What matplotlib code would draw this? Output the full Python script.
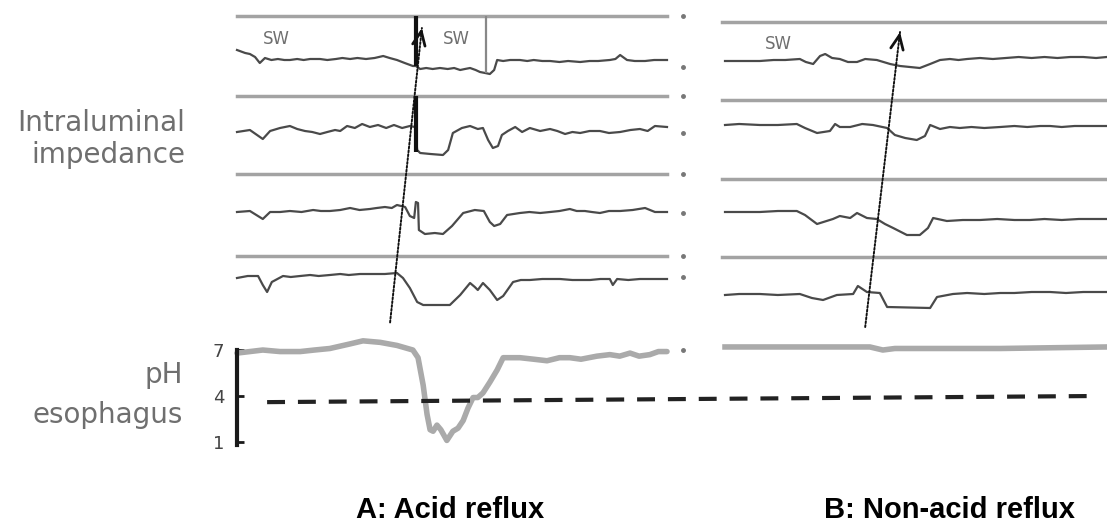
import matplotlib.pyplot as plt

W, H = 1107, 524

# --- A: acid reflux (time in s, impedance in arbitrary units) ---
a_t1 = [0, 1.9, 3, 4.2, 5.3, 6.5, 8, 9.5, 11, 12.3, 14, 15.5, 17, 19.3, 21, 23, 24.5, 26.3,
        28, 30, 32, 34, 35.5, 37.2, 39, 40.9, 41.6, 42.6, 44, 45.5, 47.2, 49, 50.5, 51.9,
        53, 54.2, 55.5, 56.5, 57.7, 58.8, 59.8, 60.5, 61.9, 63.5, 65.8, 67.5, 69, 71, 72.8,
        75, 77, 79.8, 82, 84, 86.7, 88, 89.1, 90.7, 92.5, 94.9, 97, 100]
a_z1 = [4.6, 4.3, 4.2, 3.9, 3.3, 3.8, 3.6, 3.7, 3.6, 3.6, 3.7, 3.6, 3.7, 3.7, 3.6, 3.7, 3.8, 3.7,
        3.8, 3.7, 3.8, 4.0, 3.8, 3.6, 3.3, 3.0, 3.0, 2.7, 2.8, 2.7, 2.8, 2.7, 2.8, 2.6,
        2.7, 2.8, 2.6, 2.4, 2.3, 2.2, 2.6, 3.6, 3.5, 3.6, 3.6, 3.5, 3.6, 3.5, 3.5,
        3.4, 3.5, 3.4, 3.5, 3.5, 3.6, 3.7, 4.1, 3.6, 3.5, 3.5, 3.6, 3.6]

a_t2 = [0, 3, 6, 7.7, 10, 12.3, 14, 15.8, 17.5, 19.3, 21, 22.8, 24, 25.6, 27.4, 29.1, 30.9,
        32.8, 34.7, 36.5, 38.4, 40.2, 41.4, 41.9, 42.6, 45, 47.9, 49.1, 50.2, 52.3, 54.2, 56,
        57.2, 58.4, 59.5, 60.7, 61.6, 63, 64.7, 66.3, 68.1, 70.5, 72.8, 74.5, 76.3, 78, 79.8,
        82, 84.4, 86.5, 89.1, 91.5, 93.7, 95.5, 97.2, 100]
a_z2 = [4.4, 4.6, 3.7, 4.5, 4.8, 5.0, 4.7, 4.5, 4.4, 4.2, 4.4, 4.6, 4.5, 5.0, 4.8, 5.2, 4.9,
        5.1, 4.8, 5.1, 4.8, 5.0, 4.9, 2.6, 2.3, 2.2, 2.1, 2.6, 4.3, 4.8, 5.0, 4.7,
        4.8, 3.6, 2.8, 3.0, 4.1, 4.5, 4.9, 4.4, 4.8, 4.5, 4.7, 4.5, 4.2, 4.4, 4.3,
        4.5, 4.5, 4.3, 4.4, 4.6, 4.7, 4.5, 5.0, 4.9]

a_t3 = [0, 3, 6, 7.7, 10, 12.3, 15, 17.7, 19.5, 21.6, 24, 26.3, 28.5, 30.9, 32.5, 34.4, 36,
        37.2, 39.1, 40.2, 41.2, 41.6, 42.1, 42.3, 43.7, 46, 47.9, 50, 52.6, 55.3, 57.4, 58.8,
        59.8, 61.2, 62.8, 65.8, 68, 70.5, 72.8, 75, 77.4, 79, 80.9, 82.5, 84.4, 86.5, 89.1,
        92, 94.9, 97.2, 100]
a_z3 = [4.2, 4.3, 3.5, 4.2, 4.2, 4.3, 4.2, 4.4, 4.3, 4.3, 4.4, 4.6, 4.4, 4.5, 4.6, 4.7, 4.6,
        4.9, 4.7, 3.8, 3.6, 5.2, 5.1, 2.4, 2.0, 2.1, 2.0, 2.8, 4.1, 4.4, 4.3, 3.2,
        2.8, 3.0, 3.9, 4.1, 4.2, 4.1, 4.2, 4.3, 4.5, 4.3, 4.3, 4.2, 4.1, 4.3, 4.3,
        4.4, 4.6, 4.2, 4.2]

a_t4 = [0, 2.5, 4.9, 6, 7, 8.1, 10.7, 12.5, 14.7, 17, 19, 21.6, 24, 26, 28.6, 31, 34.4, 37.2,
        38.6, 40.2, 41.9, 43.3, 46, 49.5, 51.9, 54.2, 55.3, 56, 57.2, 58.8, 60.5, 61.9, 64.2,
        66, 68.1, 71, 75.1, 78, 82.1, 84.5, 86.7, 87.4, 88.4, 91, 93.7, 97, 100]
a_z4 = [5.8, 6.0, 6.0, 5.1, 4.4, 5.4, 6.0, 5.9, 6.0, 6.1, 6.0, 6.1, 6.2, 6.1, 6.2, 6.2, 6.2,
        6.3, 5.8, 4.8, 3.4, 3.1, 3.1, 3.1, 4.1, 5.3, 4.9, 4.6, 5.3, 4.6, 3.6, 4.0, 5.4,
        5.6, 5.6, 5.7, 5.7, 5.6, 5.6, 5.7, 5.7, 5.1, 5.7, 5.6, 5.7, 5.7, 5.7]

a_tph = [0, 3, 6, 10, 14.7, 18, 21.6, 26.3, 29.3, 33.3, 37.2, 40.9, 42.1, 43.3, 44.2, 44.9,
         45.6, 46.5, 47.4, 48.8, 50.2, 51.4, 52.6, 53.7, 54.9, 56, 57.2, 58.8, 60.5, 61.9,
         65.8, 69, 72.1, 75, 77.4, 80, 83.7, 86.7, 89, 91.4, 93.5, 96, 98, 100]
a_ph = [6.8, 6.9, 7.0, 6.9, 6.9, 7.0, 7.1, 7.4, 7.6, 7.5, 7.3, 7.0, 6.5, 4.7, 2.8, 1.8,
        1.7, 2.1, 1.8, 1.1, 1.7, 1.9, 2.4, 3.2, 3.9, 3.9, 4.2, 4.9, 5.7, 6.5,
        6.5, 6.4, 6.3, 6.5, 6.5, 6.4, 6.6, 6.7, 6.6, 6.8, 6.6, 6.7, 6.9, 6.9]

# --- B: non-acid reflux ---
b_t1 = [0.7, 4, 8.8, 12, 14.7, 18.1, 19.5, 21.2, 22.8, 24, 25.6, 27.4, 29.3, 31.4, 33.3, 36,
        39.1, 41.4, 46, 48.4, 50.7, 53, 55, 57, 60, 63, 66, 69, 72, 75, 78, 81, 84, 87, 89.5]
b_z1 = [4.1, 4.1, 4.1, 4.2, 4.2, 4.3, 4.0, 3.8, 4.6, 4.8, 4.4, 4.3, 4.0, 4.0, 4.3, 4.2,
        3.8, 3.6, 3.4, 3.8, 4.2, 4.3, 4.2, 4.3, 4.4, 4.3, 4.4, 4.5, 4.4, 4.5, 4.4, 4.5,
        4.5, 4.4, 4.5]

b_t2 = [0.7, 4, 8.8, 13, 17.4, 19.3, 22.1, 25.1, 26.3, 27.4, 29.8, 32.6, 35.1, 38.4, 40.2,
        42.6, 45.3, 47.2, 48.4, 50.7, 53, 55.3, 58, 61, 64.7, 68, 71, 74, 76.3, 79, 82, 85,
        89.5]
b_z2 = [5.5, 5.6, 5.5, 5.5, 5.6, 5.2, 4.7, 4.9, 5.6, 5.3, 5.3, 5.6, 5.5, 5.2, 4.5,
        4.2, 4.0, 4.4, 5.5, 5.1, 5.3, 5.2, 5.3, 5.2, 5.3, 5.4, 5.3, 5.4, 5.4, 5.3, 5.4, 5.4,
        5.4]

b_t3 = [0.7, 4, 8.8, 13, 17.4, 19.3, 22.1, 25.8, 27.4, 29.8, 31.4, 33.7, 36, 37.9, 39.8, 43,
        46, 47.9, 49.1, 52.3, 56, 60, 64, 68, 71.6, 75, 79, 83, 86, 89.5]
b_z3 = [4.7, 4.7, 4.7, 4.8, 4.8, 4.4, 3.5, 4.0, 4.3, 4.1, 4.6, 4.1, 4.0, 3.5, 3.1, 2.4,
        2.4, 3.1, 4.1, 3.8, 3.9, 3.9, 4.0, 3.9, 3.9, 4.0, 3.9, 4.0, 4.0, 4.0]

b_t4 = [0.7, 4, 8.8, 13, 18.1, 20.9, 23.5, 26.7, 30.5, 31.6, 33.7, 36.7, 38.4, 48.4, 50,
        53.7, 57, 61, 64.7, 68, 72, 76.3, 80, 84, 89.5]
b_z4 = [4.2, 4.3, 4.3, 4.2, 4.3, 3.9, 3.7, 4.2, 4.3, 5.1, 4.5, 4.4, 3.0, 2.9, 4.0,
        4.3, 4.4, 4.3, 4.4, 4.4, 4.5, 4.5, 4.4, 4.5, 4.5]

b_tph = [0.7, 22.8, 34.4, 37.4, 40.2, 64.7, 89.5]
b_ph = [7.2, 7.2, 7.2, 7.0, 7.1, 7.1, 7.2]

ph_ticks = [1, 4, 7]
ph_threshold = (3.6, 4.0)  # drawn slightly tilted across both panels

trace_col = '#4a4a4a'
sep_col = '#a3a3a3'
ph_col = '#aaaaaa'
text_col = '#6f6f6f'

plt.rcParams['font.family'] = ['DejaVu Sans']
fig = plt.figure(figsize=(W / 100, H / 100), dpi=100)


def px_axes(x0, y0, w, h):
    ax = fig.add_axes([x0 / W, 1 - (y0 + h) / H, w / W, h / H])
    ax.set_axis_off()
    return ax


def strip(x0, y0, w, xmax, t, z):
    ax = px_axes(x0, y0, w, 80)
    ax.set_xlim(0, xmax)
    ax.set_ylim(0, 8)
    ax.axhline(8, color=sep_col, lw=2.5, clip_on=False)
    ax.plot(t, z, color=trace_col, lw=1.6, clip_on=False)
    return ax


# panel A
a_seps = [16, 96, 174, 256]
a_strips = [strip(237, y, 430, 100, t, z)
            for y, t, z in zip(a_seps, [a_t1, a_t2, a_t3, a_t4], [a_z1, a_z2, a_z3, a_z4])]

# swallow / artefact markers
a_strips[0].vlines(41.6, 3.0, 8, color='#111111', lw=3)
a_strips[1].vlines(41.6, 2.4, 8, color='#111111', lw=3)
a_strips[0].vlines(57.9, 2.3, 8, color='#888888', lw=1.6)

# small marks at the right end of each channel
for ax, lvl in zip(a_strips, [2.9, 4.3, 4.1, 5.9]):
    ax.plot([103.7, 103.7], [8, lvl], ls='none', marker='o', ms=2.5, color='#777777',
            clip_on=False)

a_strips[0].text(6.0, 5.7, 'SW', color=text_col, fontsize=12, va='center')
a_strips[0].text(47.9, 5.7, 'SW', color=text_col, fontsize=12, va='center')

ph_a = px_axes(237, 334.7, 430, 122.6)
ph_a.set_xlim(0, 100)
ph_a.set_ylim(0, 8)
ph_a.plot(a_tph, a_ph, color=ph_col, lw=4, clip_on=False, solid_capstyle='round')
ph_a.plot([7, 200], ph_threshold, color='#222222', lw=3, ls=(0, (4.3, 3.1)), clip_on=False)
ph_a.set_axis_on()
for s in ['top', 'right', 'bottom']:
    ph_a.spines[s].set_visible(False)
ph_a.patch.set_visible(False)
ph_a.spines['left'].set_bounds(0.8, 7)
ph_a.spines['left'].set_linewidth(3)
ph_a.spines['left'].set_color('#1a1a1a')
ph_a.set_xticks([])
ph_a.set_yticks(ph_ticks)
ph_a.tick_params(axis='y', direction='in', length=5, width=2, color='#1a1a1a',
                 labelsize=13, labelcolor='#444444', pad=9)
ph_a.plot([103.7], [7], ls='none', marker='o', ms=2.5, color='#777777', clip_on=False)

# panel B
b_seps = [22, 100, 179, 257]
b_strips = [strip(722, y, 387, 90, t, z)
            for y, t, z in zip(b_seps, [b_t1, b_t2, b_t3, b_t4], [b_z1, b_z2, b_z3, b_z4])]
b_strips[0].text(10.0, 5.8, 'SW', color=text_col, fontsize=12, va='center')

ph_b = px_axes(722, 334.7, 387, 122.6)
ph_b.set_xlim(0, 90)
ph_b.set_ylim(0, 8)
ph_b.plot(b_tph, b_ph, color=ph_col, lw=4, clip_on=False)


# dotted arrows marking the retrograde bolus movement
def reflux_arrow(ax_top, ax_ph, tip, tail):
    ax_ph.annotate('', xy=tip, xycoords=ax_top.transData, xytext=tail,
                   textcoords=ax_ph.transData, annotation_clip=False,
                   arrowprops=dict(arrowstyle='-', ls=(0, (1, 1)), lw=1.4, color='#111111',
                                   shrinkA=0, shrinkB=0))
    base = (tip[0] - 0.25, tip[1] - 0.6)
    ax_top.annotate('', xy=tip, xytext=base, annotation_clip=False,
                    arrowprops=dict(arrowstyle='->,head_length=1.0,head_width=0.45',
                                    lw=2, color='#111111', shrinkA=0, shrinkB=0))


reflux_arrow(a_strips[0], ph_a, (43.0, 6.8), (35.6, 8.8))
reflux_arrow(b_strips[0], ph_b, (41.4, 7.0), (33.3, 8.5))

# labels
fig.text(185 / W, 1 - 163 / H, 'Intraluminal\nimpedance', ha='right', va='baseline',
         fontsize=20, color=text_col, linespacing=1.2)
fig.text(183 / W, 1 - 383 / H, 'pH', ha='right', va='baseline', fontsize=20, color=text_col)
fig.text(183 / W, 1 - 423 / H, 'esophagus', ha='right', va='baseline', fontsize=20,
         color=text_col)

title_font = dict(family=['Liberation Sans', 'DejaVu Sans'], fontsize=21, fontweight='bold',
                  color='black', va='baseline')
fig.text(450 / W, 1 - 518 / H, 'A: Acid reflux', ha='center', **title_font)
fig.text(1075 / W, 1 - 518 / H, 'B: Non-acid reflux', ha='right', **title_font)

fig.savefig('out.png', dpi=100, facecolor='white')
